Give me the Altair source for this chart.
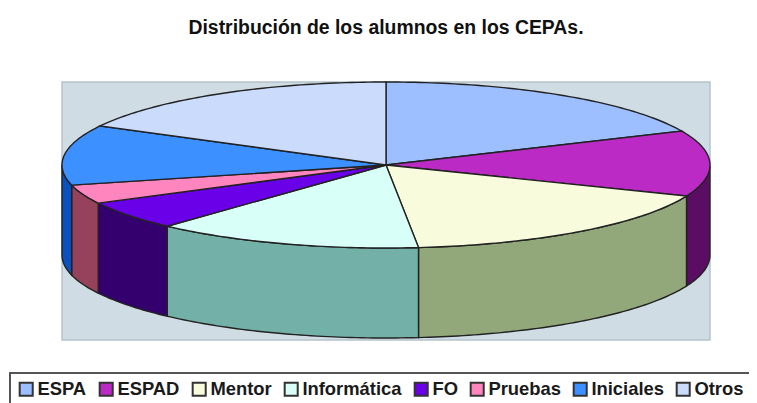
import math
import altair as alt
import pandas as pd

TITLE = "Distribución de los alumnos en los CEPAs."
categories = ["ESPA", "ESPAD", "Mentor", "Informática", "FO", "Pruebas", "Iniciales", "Otros"]
shares = [18.3, 12.8, 17.3, 13.4, 5.6, 3.7, 11.7, 17.2]
top_colors = ["#9DBEFF", "#BC2AC6", "#F8FBDC", "#D8FFF8", "#6A00E8", "#FF85BE", "#3D90FF", "#CBDBFC"]
wall_colors = ["#6C84B0", "#5A0D62", "#93A87A", "#72B0A8", "#33006E", "#96425C", "#0A50C0", "#8A98B0"]

DEPTH = 90 / 83   # wall height in units of the ellipse's minor radius
STEP = 1.0        # degrees per outline point


def outline():
    tops, walls = [], []
    start = 0.0
    total = sum(shares)
    for name, share in zip(categories, shares):
        end = start + share / total * 360
        n = max(2, int((end - start) / STEP))
        angles = [start + (end - start) * i / n for i in range(n + 1)]
        rim = [(math.sin(math.radians(a)), math.cos(math.radians(a))) for a in angles]
        pts = [(0.0, 0.0)] + rim + [(0.0, 0.0)]
        for i, (x, y) in enumerate(pts):
            tops.append({"slice": name, "o": i, "x": x, "y": y})
        front = [p for p in rim if p[1] <= 0.0001]
        if len(front) >= 2:
            ring = front + [(x, y - DEPTH) for x, y in reversed(front)] + [front[0]]
            for i, (x, y) in enumerate(ring):
                walls.append({"slice": name, "o": i, "x": x, "y": y})
        start = end
    return pd.DataFrame(tops), pd.DataFrame(walls)


tops, walls = outline()

# plot area is the grey-blue panel; 1 x unit = half its width
xs = alt.Scale(domain=[-1, 1], nice=False, zero=False)
ys = alt.Scale(domain=[-175 / 83, 1], nice=False, zero=False)
X = alt.X("x:Q", scale=xs, axis=None)
Y = alt.Y("y:Q", scale=ys, axis=None)
LINE = dict(stroke="#222222", strokeWidth=1.4, clip=False, interpolate="linear")

wall_layer = alt.Chart(walls).mark_line(**LINE).encode(
    x=X, y=Y, order="o:Q",
    fill=alt.Fill("slice:N", sort=categories, legend=None,
                  scale=alt.Scale(domain=categories, range=wall_colors)),
)
top_layer = alt.Chart(tops).mark_line(**LINE).encode(
    x=X, y=Y, order="o:Q",
    fill=alt.Fill(
        "slice:N", sort=categories,
        scale=alt.Scale(domain=categories, range=top_colors),
        legend=alt.Legend(
            title=None, orient="none", legendX=-52, legendY=291, columns=8,
            symbolType="square", symbolSize=170, symbolStrokeColor="#333",
            symbolStrokeWidth=2, symbolOpacity=1,
            labelFont="Liberation Sans", labelFontWeight="bold", labelFontSize=18.4,
            labelColor="#1a1a1a", labelOffset=2, columnPadding=8, padding=7,
            strokeColor="#555", labelLimit=200,
        ),
    ),
)

chart = (
    alt.layer(wall_layer, top_layer)
    .resolve_scale(fill="independent")
    .properties(
        width=648, height=258,
        padding={"left": 54, "top": 74, "right": 39, "bottom": 63},
        autosize=alt.AutoSizeParams(type="none"),
        title=alt.TitleParams(
            TITLE, font="Liberation Sans", fontSize=19.4, fontWeight="bold",
            color="#111", anchor="middle", offset=41,
        ),
    )
    .configure_view(fill="#CFDCE3", stroke="#B4C4CA", strokeWidth=1.5)
    .configure_legend(strokeWidth=2)
)
chart.save("out.html", embed_options={"renderer": "svg", "actions": False})
